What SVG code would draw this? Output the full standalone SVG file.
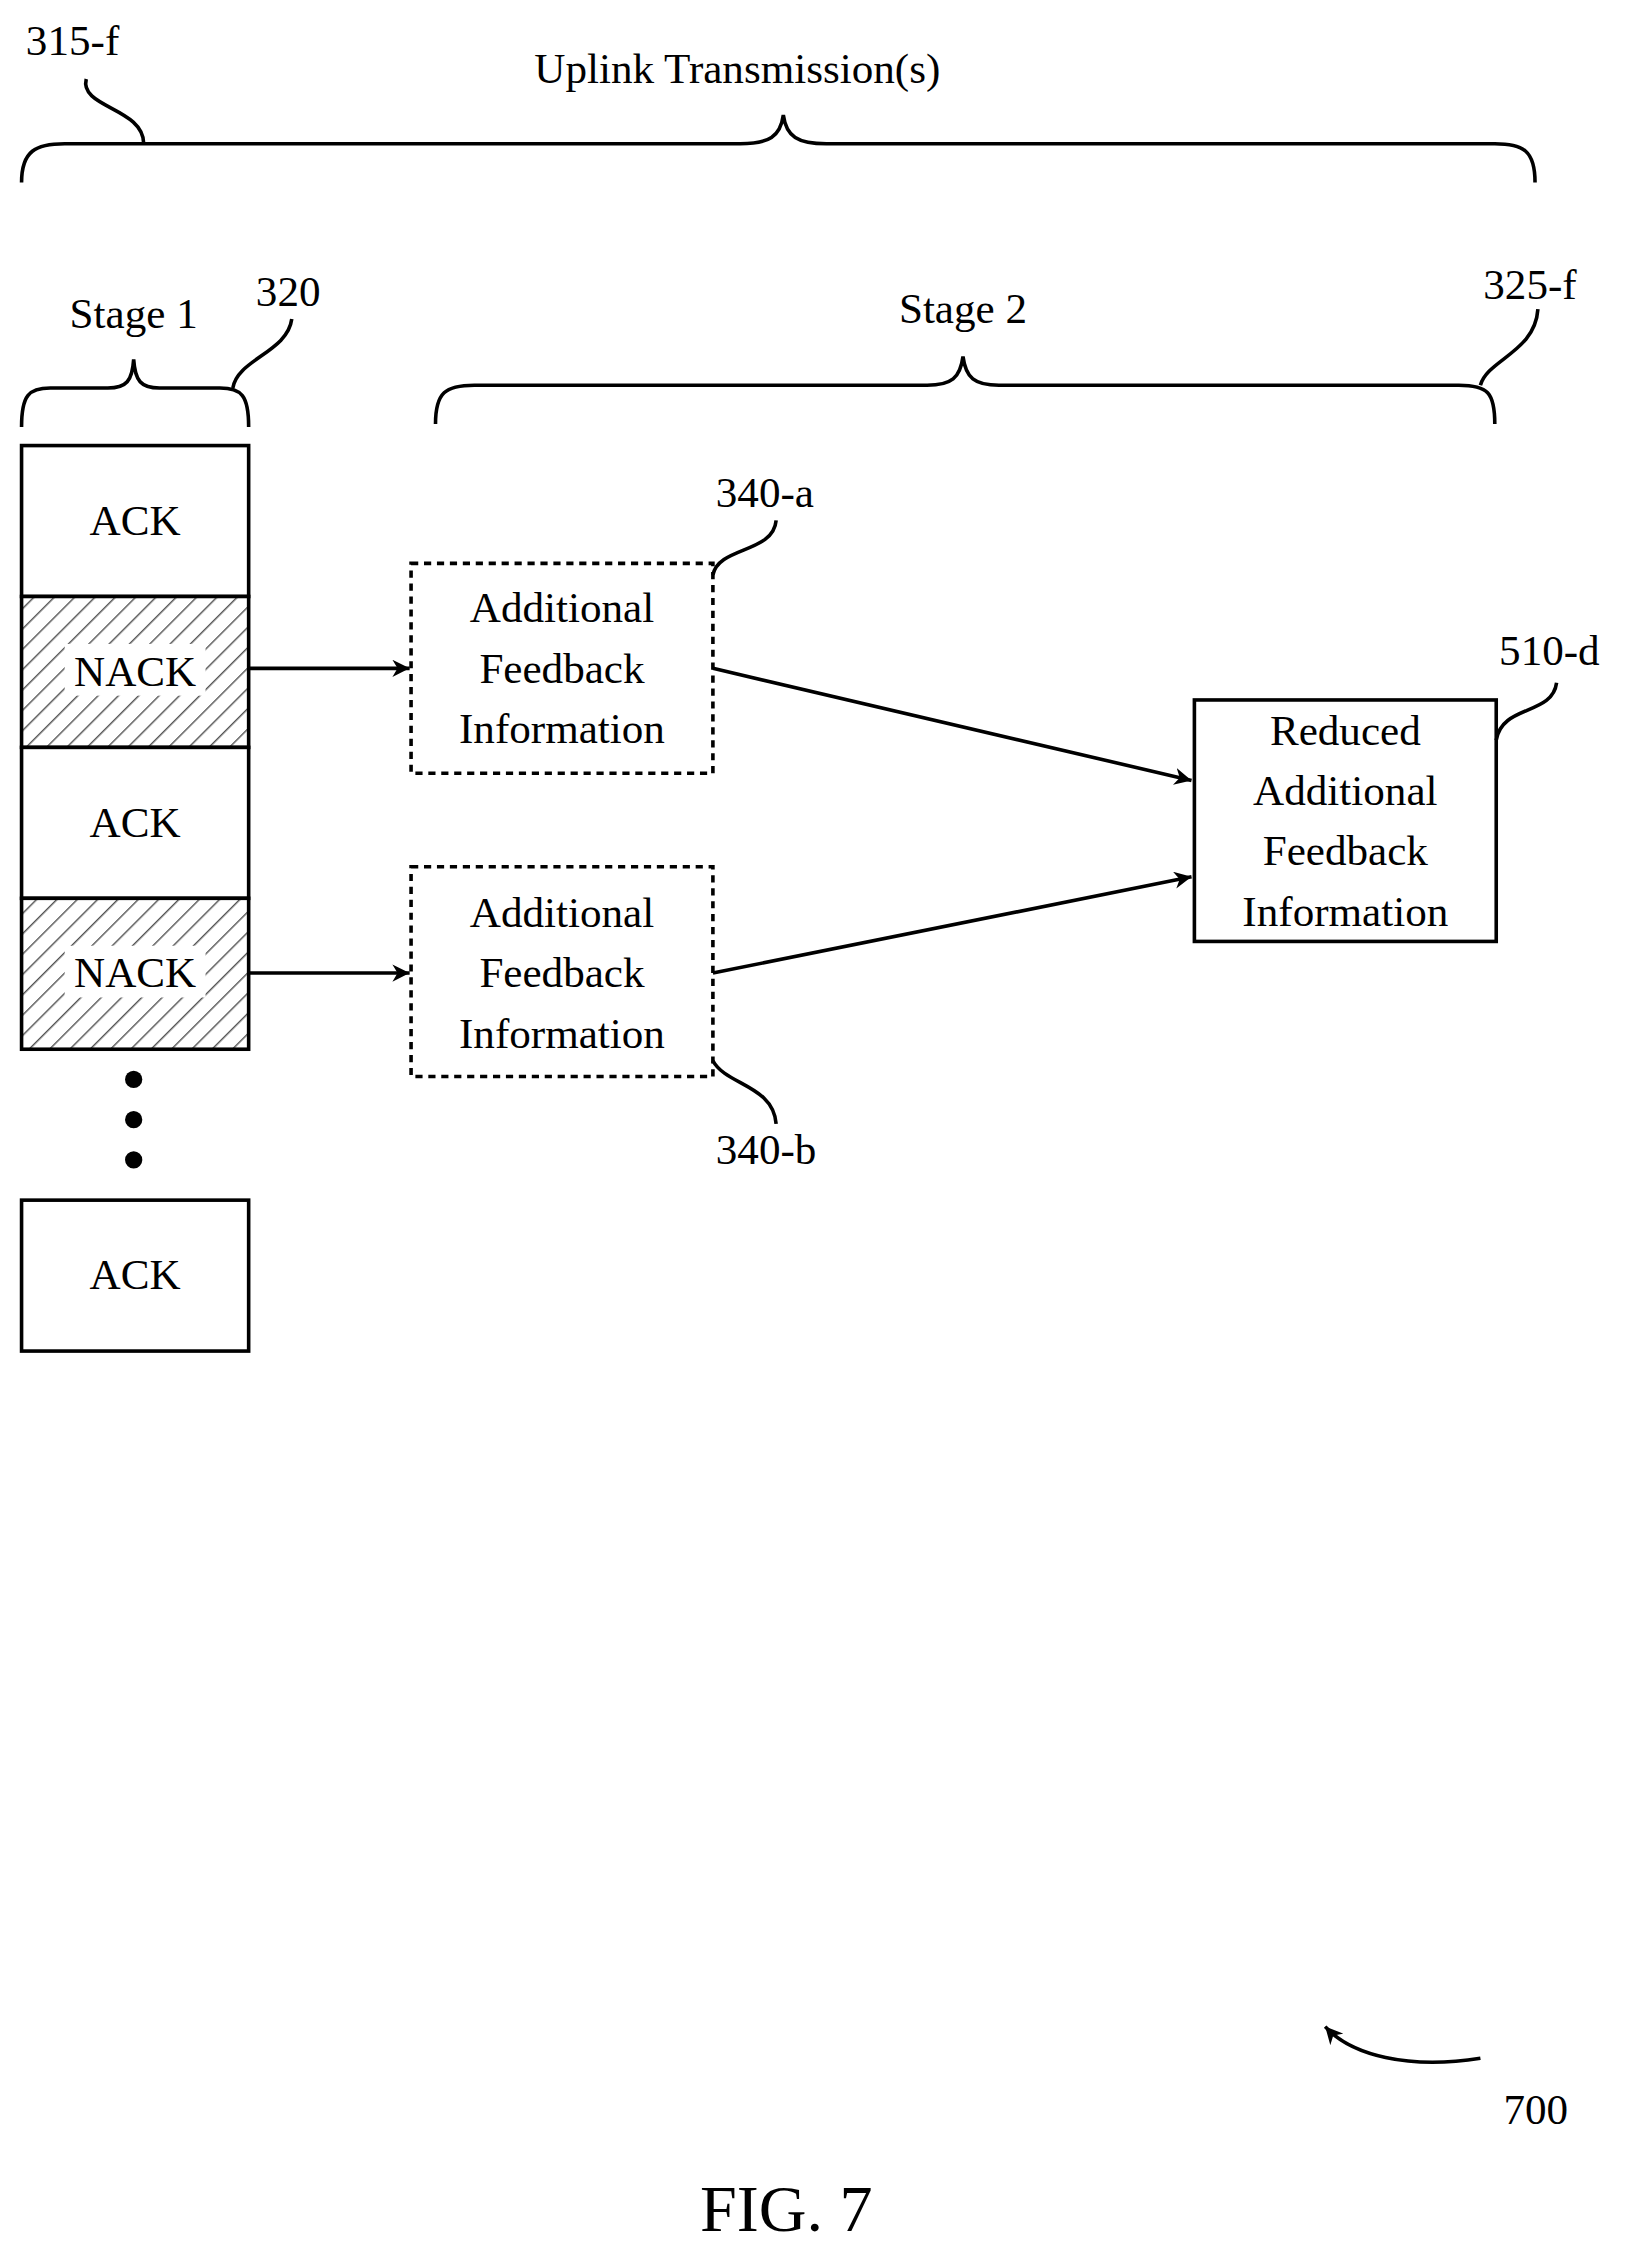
<svg xmlns="http://www.w3.org/2000/svg" width="1627" height="2243" viewBox="0 0 1627 2243">
<style>
text{font-family:"Liberation Serif","Times New Roman",serif;font-size:30px;fill:#000}
.c{text-anchor:middle}
.l{fill:none;stroke:#000;stroke-width:2.5}
.b{fill:#fff;stroke:#000;stroke-width:2.5}
.d{fill:#fff;stroke:#000;stroke-width:2.5;stroke-dasharray:5,4}
</style>
<defs>
<pattern id="h" width="10" height="10" patternUnits="userSpaceOnUse" patternTransform="rotate(45)">
<rect width="10" height="10" fill="#fff"/><line x1="0" y1="0" x2="0" y2="10" stroke="#555" stroke-width="2"/>
</pattern>
<marker id="a" viewBox="0 0 10 10" refX="10" refY="5" markerWidth="12" markerHeight="12" markerUnits="userSpaceOnUse" orient="auto"><path d="M0,0L10,5L0,10L3,5z" fill="#000"/></marker>
</defs>
<rect width="1627" height="2243" fill="#fff"/>
<g transform="scale(1.4373)">
<g id="braces">
<path class="l" d="M15,127 C15,105 25,100 45,100 L515,100 C535,100 543,95 545,80 C547,95 555,100 575,100 L1040,100 C1060,100 1068,105 1068,127"/>
<path class="l" d="M15,297 C15,275 20,270 35,270 L75,270 C88,270 92,265 93,250 C94,265 98,270 111,270 L153,270 C168,270 173,275 173,297"/>
<path class="l" d="M303,295 C303,273 310,268 330,268 L645,268 C662,268 668,263 670,248 C672,263 678,268 695,268 L1015,268 C1035,268 1040,273 1040,295"/>
</g>
<g id="labels">
<text x="18" y="38">315-f</text>
<path class="l" d="M60,55 C55,75 100,75 100,100"/>
<text class="c" x="513" y="58">Uplink Transmission(s)</text>
<text class="c" x="93" y="228">Stage 1</text>
<text x="178" y="213">320</text>
<path class="l" d="M203,222 C200,245 165,250 162,270"/>
<text class="c" x="670" y="225">Stage 2</text>
<text x="1032" y="208">325-f</text>
<path class="l" d="M1070,215 C1068,245 1035,250 1030,268"/>
</g>
<g id="stack">
<rect class="b" x="15" y="310" width="158" height="105"/><text class="c" x="94" y="372">ACK</text>
<rect x="15" y="415" width="158" height="105" fill="url(#h)" stroke="#000" stroke-width="2.5"/>
<rect x="45" y="448" width="98" height="36" fill="#fff"/><text class="c" x="94" y="477">NACK</text>
<rect class="b" x="15" y="520" width="158" height="105"/><text class="c" x="94" y="582">ACK</text>
<rect x="15" y="625" width="158" height="105" fill="url(#h)" stroke="#000" stroke-width="2.5"/>
<rect x="45" y="658" width="98" height="36" fill="#fff"/><text class="c" x="94" y="687">NACK</text>
<circle cx="93" cy="751" r="6"/><circle cx="93" cy="779" r="6"/><circle cx="93" cy="807" r="6"/>
<rect class="b" x="15" y="835" width="158" height="105"/><text class="c" x="94" y="897">ACK</text>
</g>
<g id="afi-a">
<rect class="d" x="286" y="392" width="210" height="146"/>
<text class="c" x="391" y="433">Additional</text><text class="c" x="391" y="475">Feedback</text><text class="c" x="391" y="517">Information</text>
<text x="498" y="353">340-a</text>
<path class="l" d="M496,400 C500,380 538,385 540,362"/>
</g>
<g id="afi-b">
<rect class="d" x="286" y="603" width="210" height="146"/>
<text class="c" x="391" y="645">Additional</text><text class="c" x="391" y="687">Feedback</text><text class="c" x="391" y="729">Information</text>
<text x="498" y="810">340-b</text>
<path class="l" d="M496,738 C505,755 538,755 540,782"/>
</g>
<g id="reduced">
<rect class="b" x="831" y="487" width="210" height="168"/>
<text class="c" x="936" y="518">Reduced</text><text class="c" x="936" y="560">Additional</text><text class="c" x="936" y="602">Feedback</text><text class="c" x="936" y="644">Information</text>
<text x="1043" y="463">510-d</text>
<path class="l" d="M1041,515 C1045,490 1080,498 1083,475"/>
</g>
<g id="connectors">
<line class="l" x1="173" y1="465" x2="285" y2="465" marker-end="url(#a)"/>
<line class="l" x1="173" y1="677" x2="285" y2="677" marker-end="url(#a)"/>
<line class="l" x1="496" y1="465" x2="829" y2="543" marker-end="url(#a)"/>
<line class="l" x1="496" y1="677" x2="829" y2="610" marker-end="url(#a)"/>
</g>
<g id="ref700">
<path class="l" d="M1030,1432 C980,1440 940,1430 922,1410" marker-end="url(#a)"/>
<text x="1046" y="1478">700</text>
</g>
<text class="c" x="547" y="1552" style="font-size:46px">FIG. 7</text>
</g>
</svg>
